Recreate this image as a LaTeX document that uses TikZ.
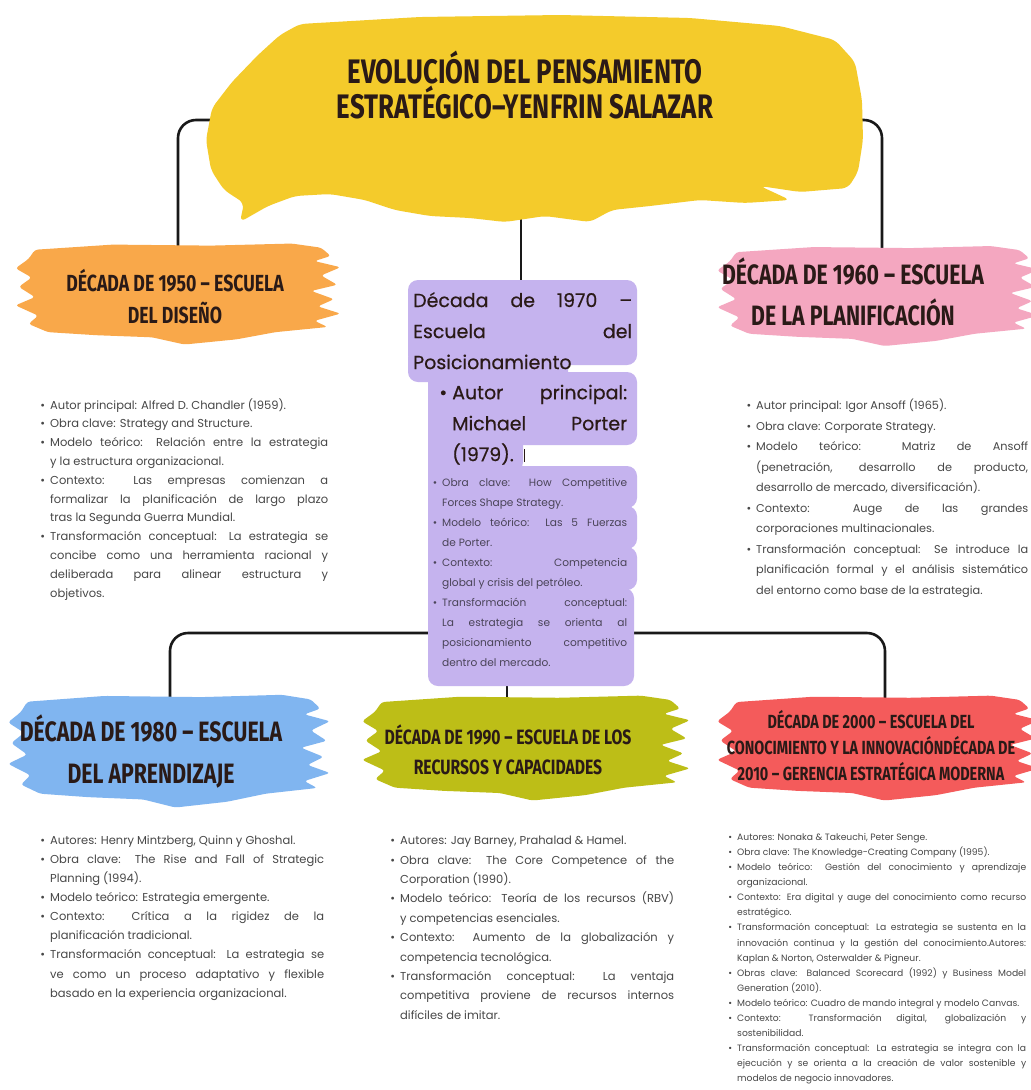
\documentclass[tikz,border=0pt]{standalone}
\usepackage{fontspec}
\setmainfont{Poppins}
\newfontfamily\headfont{Fira Sans}[FakeStretch=0.76]
\newfontfamily\medfont{Poppins}[FakeBold=0.5]
\usepackage{enumitem}
\setlist[itemize]{label=\textbullet,leftmargin=12pt,labelsep=5pt,itemsep=0pt,topsep=0pt,parsep=0pt,partopsep=0pt}
\definecolor{yellowc}{HTML}{F4CB2B}
\definecolor{orangec}{HTML}{F9A84A}
\definecolor{pinkc}{HTML}{F4A7C0}
\definecolor{purpc}{HTML}{C5B3EE}
\definecolor{bluec}{HTML}{80B5F0}
\definecolor{greenc}{HTML}{BDBE17}
\definecolor{redc}{HTML}{F45B5B}
\definecolor{headcol}{HTML}{2A1A17}
\definecolor{txtgray}{HTML}{474747}
\definecolor{purptxt}{HTML}{4A4458}
\newcommand\brushblob[5]{%
  \begin{scope}[shift={(#2,#3)},xscale=#4,yscale=#5]
  \fill[#1,rounded corners=3pt] (-0.44,-0.42) -- (-0.20,-0.47) -- (0.10,-0.46) -- (0.35,-0.48) -- (0.44,-0.44) -- (0.47,-0.36) -- (0.42,-0.31) -- (0.50,-0.25) -- (0.44,-0.17) -- (0.49,-0.08) -- (0.41,-0.02) -- (0.48,0.06) -- (0.43,0.13) -- (0.50,0.20) -- (0.42,0.27) -- (0.46,0.33) -- (0.30,0.38) -- (0.18,0.45) -- (0.02,0.50) -- (-0.08,0.43) -- (-0.25,0.41) -- (-0.40,0.38) -- (-0.46,0.30) -- (-0.43,0.22) -- (-0.50,0.12) -- (-0.44,0.04) -- (-0.49,-0.06) -- (-0.45,-0.15) -- (-0.50,-0.24) -- (-0.46,-0.33) -- cycle;
  \end{scope}}
\begin{document}
\begin{tikzpicture}[x=1pt,y=-1pt,
  conn/.style={draw=black!90,line width=2.6pt},
  head/.style={text=headcol,align=center,inner sep=0pt},
  body/.style={text=txtgray,align=justify,inner sep=0pt,anchor=north west},
  purp/.style={fill=purpc,rounded corners=10pt}]
\useasboundingbox (0,0) rectangle (1031,1090);
\fill[white] (0,0) rectangle (1031,1090);
\clip (0,0) rectangle (1031,1090);
% connector end points
\coordinate (tl) at (212,120);
\coordinate (c50) at (178,252);
\coordinate (tr) at (854,120);
\coordinate (c60) at (882,256);
\coordinate (tb) at (521,205);
\coordinate (p70) at (521,284);
\coordinate (hub) at (507,633);
\coordinate (c80) at (170,704);
\coordinate (c00) at (885,704);
\coordinate (pb) at (507,682);
\coordinate (c90) at (507,702);
\draw[conn,rounded corners=18pt] (tl) -| (c50);
\draw[conn,rounded corners=18pt] (tr) -| (c60);
\draw[conn] (tb) -- (p70);
\draw[conn,rounded corners=18pt] (c80) |- (hub) -| (c00);
\draw[conn] (pb) -- (c90);
% title blob
\fill[yellowc,rounded corners=6pt] (300,24) -- (420,17) -- (560,15) -- (690,18) -- (780,26) -- (835,40) -- (855,62) -- (862,100) -- (863,140) -- (858,172) -- (848,188) -- (800,192) -- (760,186) -- (790,200) -- (745,203) -- (700,200) -- (650,206) -- (612,210) -- (590,222) -- (545,216) -- (505,222) -- (470,218) -- (430,216) -- (395,210) -- (365,200) -- (330,194) -- (295,196) -- (268,206) -- (240,222) -- (244,203) -- (224,190) -- (211,170) -- (206,140) -- (212,108) -- (232,82) -- (258,55) -- (280,35) -- cycle;
% purple composite box
\fill[purp] (408,280) rectangle (637,365);
\fill[purp] (408,348) rectangle (568,382);
\fill[purp] (428,372) rectangle (637,445);
\fill[purp] (428,430) rectangle (523,472);
\fill[purp] (428,466) rectangle (637,508);
\fill[purp] (428,506) rectangle (637,549);
\fill[purp] (428,547) rectangle (637,590);
\fill[purp] (428,588) rectangle (634,686);
\fill[purpc] (428,380) rectangle (470,676);
% brush blobs
\brushblob{orangec}{178}{293}{325}{103}
\brushblob{pinkc}{878}{295}{322}{102}
\brushblob{bluec}{169}{750}{322}{115}
\brushblob{greenc}{526}{747}{328}{107}
\brushblob{redc}{878}{747}{322}{107}
% titles
\node[head,font={\headfont\bfseries\fontsize{34}{32}\selectfont}] (title) at (525,85) {EVOLUCIÓN DEL PENSAMIENTO\\ESTRATÉGICO–YENFRIN SALAZAR};
\node[head,font={\headfont\bfseries\fontsize{23.3}{32}\selectfont}] (h50) at (175,297) {DÉCADA DE 1950 – ESCUELA\\DEL DISEÑO};
\node[head,font={\headfont\bfseries\fontsize{28}{41}\selectfont}] (h60) at (853,292) {DÉCADA DE 1960 – ESCUELA\\DE LA PLANIFICACIÓN};
\node[head,font={\headfont\bfseries\fontsize{28}{42}\selectfont}] (h80) at (151,751) {DÉCADA DE 1980 – ESCUELA\\DEL APRENDIZAJE};
\node[head,font={\headfont\bfseries\fontsize{20.7}{30}\selectfont}] (h90) at (508,750) {DÉCADA DE 1990 – ESCUELA DE LOS\\RECURSOS Y CAPACIDADES};
\node[head,font={\headfont\bfseries\fontsize{19}{26}\selectfont}] (h00) at (871,746) {DÉCADA DE 2000 – ESCUELA DEL\\CONOCIMIENTO Y LA INNOVACIÓNDÉCADA DE\\2010 – GERENCIA ESTRATÉGICA MODERNA};
% purple texts
\node[body,text=headcol,text width=219pt,font={\medfont\fontsize{19}{31}\selectfont\hyphenpenalty=10000\tolerance=9999}] (p70h) at (413,292) {Década de 1970 –\linebreak Escuela del\linebreak Posicionamiento\par};
\node[body,text=headcol,text width=192pt,font={\medfont\fontsize{19}{31}\selectfont\hyphenpenalty=10000\tolerance=9999}] (p70a) at (435,368) {\begin{itemize}[leftmargin=17pt]\item Autor principal:\linebreak Michael Porter\linebreak (1979).~~{\color{headcol}\rule[-1pt]{1.2pt}{13pt}}\end{itemize}};
\node[body,text=purptxt,text width=197pt,font={\fontsize{10.6}{20}\selectfont\hyphenpenalty=10000\tolerance=9999}] (p70b) at (430,466) {\begin{itemize}[leftmargin=12pt]
\item Obra clave: How Competitive\linebreak Forces Shape Strategy.
\item Modelo teórico: Las 5 Fuerzas\linebreak de Porter.
\item Contexto: Competencia\linebreak global y crisis del petróleo.
\item Transformación conceptual:\linebreak La estrategia se orienta al\linebreak posicionamiento competitivo\linebreak dentro del mercado.
\end{itemize}};
% body texts
\node[body,text width=292pt,font={\fontsize{11.5}{18.8}\selectfont\hyphenpenalty=10000\tolerance=9999}] (t50) at (36,390) {\begin{itemize}[leftmargin=14pt]
\item Autor principal: Alfred D. Chandler (1959).
\item Obra clave: Strategy and Structure.
\item Modelo teórico: Relación entre la estrategia\linebreak y la estructura organizacional.
\item Contexto: Las empresas comienzan a\linebreak formalizar la planificación de largo plazo\linebreak tras la Segunda Guerra Mundial.
\item Transformación conceptual: La estrategia se\linebreak concibe como una herramienta racional y\linebreak deliberada para alinear estructura y\linebreak objetivos.
\end{itemize}};
\node[body,text width=286pt,font={\fontsize{11.3}{20.5}\selectfont\hyphenpenalty=10000\tolerance=9999}] (t60) at (742,389) {\begin{itemize}[leftmargin=14pt]
\item Autor principal: Igor Ansoff (1965).
\item Obra clave: Corporate Strategy.
\item Modelo teórico: Matriz de Ansoff\linebreak (penetración, desarrollo de producto,\linebreak desarrollo de mercado, diversificación).
\item Contexto: Auge de las grandes\linebreak corporaciones multinacionales.
\item Transformación conceptual: Se introduce la\linebreak planificación formal y el análisis sistemático\linebreak del entorno como base de la estrategia.
\end{itemize}};
\node[body,text width=288pt,font={\fontsize{11.5}{19.1}\selectfont\hyphenpenalty=10000\tolerance=9999}] (t80) at (36,825) {\begin{itemize}[leftmargin=14pt]
\item Autores: Henry Mintzberg, Quinn y Ghoshal.
\item Obra clave: The Rise and Fall of Strategic\linebreak Planning (1994).
\item Modelo teórico: Estrategia emergente.
\item Contexto: Crítica a la rigidez de la\linebreak planificación tradicional.
\item Transformación conceptual: La estrategia se\linebreak ve como un proceso adaptativo y flexible\linebreak basado en la experiencia organizacional.
\end{itemize}};
\node[body,text width=288pt,font={\fontsize{11.5}{19.4}\selectfont\hyphenpenalty=10000\tolerance=9999}] (t90) at (386,825) {\begin{itemize}[leftmargin=14pt]
\item Autores: Jay Barney, Prahalad \& Hamel.
\item Obra clave: The Core Competence of the\linebreak Corporation (1990).
\item Modelo teórico: Teoría de los recursos (RBV)\linebreak y competencias esenciales.
\item Contexto: Aumento de la globalización y\linebreak competencia tecnológica.
\item Transformación conceptual: La ventaja\linebreak competitiva proviene de recursos internos\linebreak difíciles de imitar.
\end{itemize}};
\node[body,text width=300pt,font={\fontsize{9.2}{15.1}\selectfont\hyphenpenalty=10000\tolerance=9999}] (t00) at (726,825) {\begin{itemize}[leftmargin=11pt]
\item Autores: Nonaka \& Takeuchi, Peter Senge.
\item Obra clave: The Knowledge-Creating Company (1995).
\item Modelo teórico: Gestión del conocimiento y aprendizaje\linebreak organizacional.
\item Contexto: Era digital y auge del conocimiento como recurso\linebreak estratégico.
\item Transformación conceptual: La estrategia se sustenta en la\linebreak innovación continua y la gestión del conocimiento.Autores:\linebreak Kaplan \& Norton, Osterwalder \& Pigneur.
\item Obras clave: Balanced Scorecard (1992) y Business Model\linebreak Generation (2010).
\item Modelo teórico: Cuadro de mando integral y modelo Canvas.
\item Contexto: Transformación digital, globalización y\linebreak sostenibilidad.
\item Transformación conceptual: La estrategia se integra con la\linebreak ejecución y se orienta a la creación de valor sostenible y\linebreak modelos de negocio innovadores.
\end{itemize}};
\end{tikzpicture}
\end{document}
